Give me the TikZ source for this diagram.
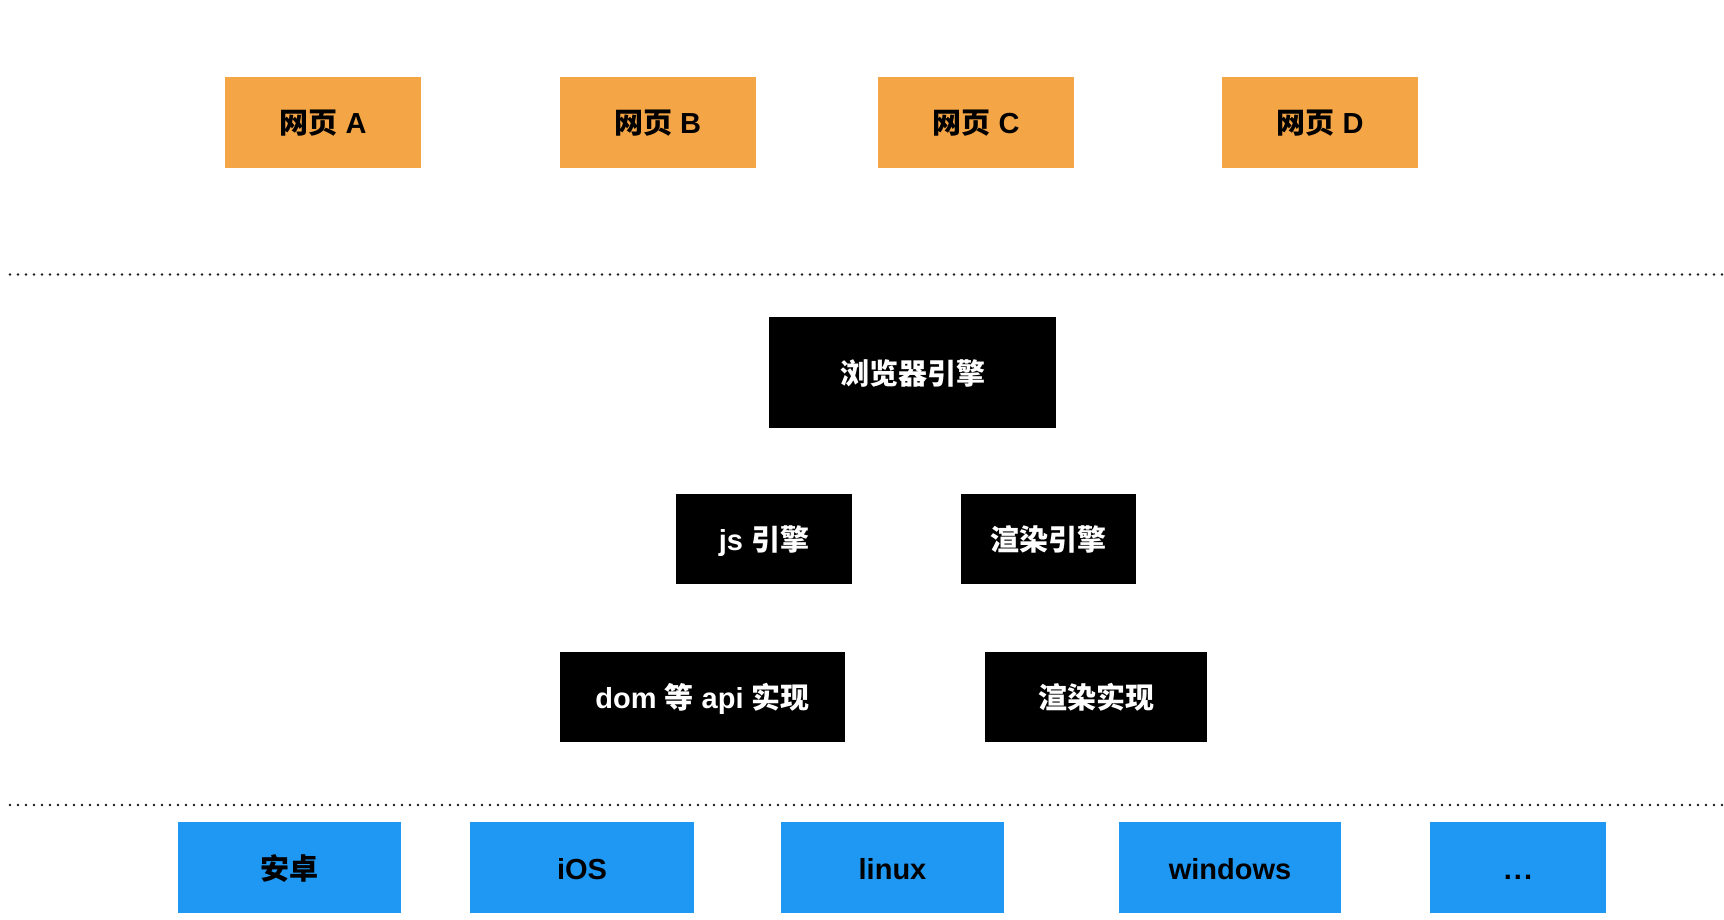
\documentclass[tikz,border=0pt]{standalone}
\usepackage{fontspec}
\setmainfont{Liberation Sans}
\newfontfamily\cjk{Noto Sans CJK SC}
\definecolor{pageorange}{HTML}{F4A546}
\definecolor{osblue}{HTML}{1E98F2}
\definecolor{dotgray}{HTML}{1A1A1A}
\begin{document}
\begin{tikzpicture}[x=1pt,y=-1pt,
  box/.style={rectangle,inner sep=0pt,text height=25pt,text depth=2pt,
    font=\fontsize{29}{34}\selectfont\bfseries},
  pagebox/.style={box,fill=pageorange,text=black,minimum width=196pt,minimum height=91pt},
  enginebox/.style={box,fill=black,text=white,minimum height=90pt},
  osbox/.style={box,fill=osblue,text=black,minimum height=91pt},
  sep/.style={dotgray,line width=2.8pt,line cap=round,dash pattern=on 0pt off 8pt}]
\useasboundingbox (0,0) rectangle (1724,920);
\fill[white] (0,0) rectangle (1724,920);

% web pages
\node[pagebox] (pa) at (323,122.5) {{\cjk 网页} A};
\node[pagebox] (pb) at (657.5,122.5) {{\cjk 网页} B};
\node[pagebox] (pc) at (976,122.5) {{\cjk 网页} C};
\node[pagebox] (pd) at (1320,122.5) {{\cjk 网页} D};

% separators
\coordinate (s1l) at (10,274.5);
\coordinate (s1r) at (1724,274.5);
\coordinate (s2l) at (10,805);
\coordinate (s2r) at (1724,805);
\draw[sep] (s1l) -- (s1r);
\draw[sep] (s2l) -- (s2r);

% browser engine
\node[enginebox,minimum width=287pt,minimum height=111pt] (be) at (912.5,372.5) {\cjk 浏览器引擎};
\node[enginebox,minimum width=176pt] (js) at (764,539) {js {\cjk 引擎}};
\node[enginebox,minimum width=175pt] (re) at (1048.5,539) {\cjk 渲染引擎};
\node[enginebox,minimum width=285pt] (dom) at (702.5,697) {dom {\cjk 等} api {\cjk 实现}};
\node[enginebox,minimum width=222pt] (ri) at (1096,697) {\cjk 渲染实现};

% platforms
\node[osbox,minimum width=223pt] (android) at (289.5,867.5) {\cjk 安卓};
\node[osbox,minimum width=224pt] (ios) at (582,867.5) {iOS};
\node[osbox,minimum width=223pt] (linux) at (892.5,867.5) {linux};
\node[osbox,minimum width=222pt] (win) at (1230,867.5) {windows};
\node[osbox,minimum width=176pt] (more) at (1518,867.5) {.\kern2pt.\kern2pt.};
\end{tikzpicture}
\end{document}
